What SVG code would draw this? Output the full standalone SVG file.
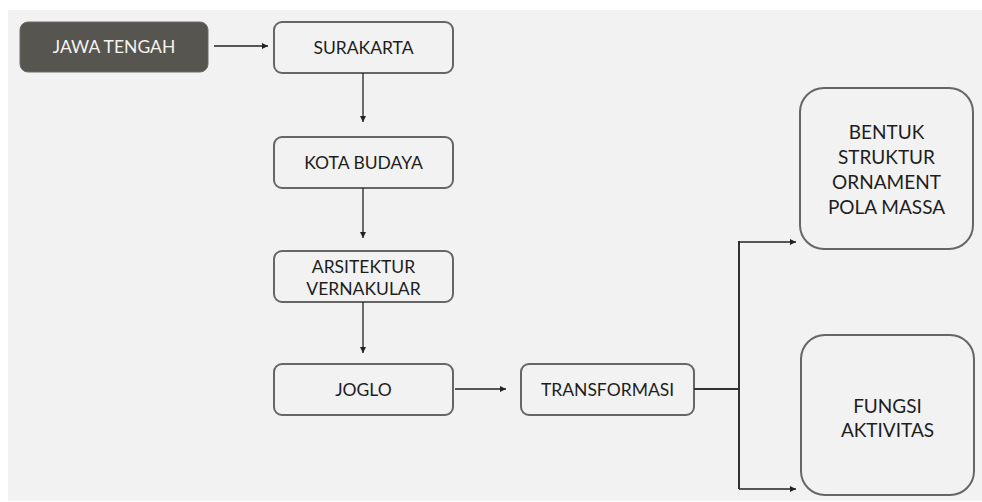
<svg xmlns="http://www.w3.org/2000/svg" width="982" height="502" viewBox="0 0 982 502">
<defs>
<style>
.box{fill:#f2f2f2;stroke:#666666;stroke-width:2}
.t{font-family:Lato,"Open Sans","Liberation Sans",sans-serif;font-size:17.5px;fill:#1e1e1e;text-anchor:middle}
.tl{font-size:19px}
.tw{fill:#f4f4f2}
.c{fill:none;stroke:#222;stroke-width:1.3}
.c2{fill:none;stroke:#333;stroke-width:2}
</style>
<marker id="ah" viewBox="0 0 10 10" refX="10" refY="5" markerWidth="6" markerHeight="6" markerUnits="userSpaceOnUse" orient="auto">
<path d="M0,0 L10,5 L0,10 z" fill="#222"/>
</marker>
</defs>
<rect x="0" y="0" width="982" height="502" fill="#ffffff"/>
<rect x="8" y="10" width="974" height="491" fill="#f2f2f2"/>
<g id="jawa-tengah">
<rect x="20" y="22" width="188" height="50" rx="8" fill="#575550" stroke="#6b6a66" stroke-width="1"/>
<text class="t tw" x="114" y="53">JAWA TENGAH</text>
</g>
<g id="surakarta">
<rect class="box" x="274" y="22" width="179" height="51" rx="8"/>
<text class="t" x="363.5" y="54">SURAKARTA</text>
</g>
<g id="kota-budaya">
<rect class="box" x="274" y="137" width="179" height="51" rx="8"/>
<text class="t" x="363.5" y="169">KOTA BUDAYA</text>
</g>
<g id="arsitektur-vernakular">
<rect class="box" x="274" y="251" width="179" height="51" rx="8"/>
<text class="t" x="363.5" y="273">ARSITEKTUR</text>
<text class="t" x="363.5" y="295">VERNAKULAR</text>
</g>
<g id="joglo">
<rect class="box" x="274" y="364" width="179" height="51" rx="8"/>
<text class="t" x="363.5" y="396">JOGLO</text>
</g>
<g id="transformasi">
<rect class="box" x="521" y="364" width="173" height="51" rx="8"/>
<text class="t" x="607.5" y="396">TRANSFORMASI</text>
</g>
<g id="bentuk">
<rect class="box" x="800" y="88" width="173" height="161" rx="24"/>
<text class="t tl" x="886.5" y="139">BENTUK</text>
<text class="t tl" x="886.5" y="164">STRUKTUR</text>
<text class="t tl" x="886.5" y="189">ORNAMENT</text>
<text class="t tl" x="886.5" y="214">POLA MASSA</text>
</g>
<g id="fungsi">
<rect class="box" x="801" y="335" width="173" height="160" rx="24"/>
<text class="t tl" x="887.5" y="413">FUNGSI</text>
<text class="t tl" x="887.5" y="437">AKTIVITAS</text>
</g>
<g id="connectors">
<line class="c" x1="214" y1="46" x2="268" y2="46" marker-end="url(#ah)"/>
<line class="c" x1="363" y1="73" x2="363" y2="122" marker-end="url(#ah)"/>
<line class="c" x1="363" y1="188" x2="363" y2="238" marker-end="url(#ah)"/>
<line class="c" x1="363" y1="302" x2="363" y2="353" marker-end="url(#ah)"/>
<line class="c" x1="455" y1="389" x2="506" y2="389" marker-end="url(#ah)"/>
<polyline class="c2" points="694,389 739,389"/>
<line class="c2" x1="739" y1="241" x2="739" y2="489"/>
<line class="c" x1="739" y1="242" x2="796" y2="242" marker-end="url(#ah)"/>
<line class="c" x1="739" y1="489" x2="796" y2="489" marker-end="url(#ah)"/>
</g>
</svg>
